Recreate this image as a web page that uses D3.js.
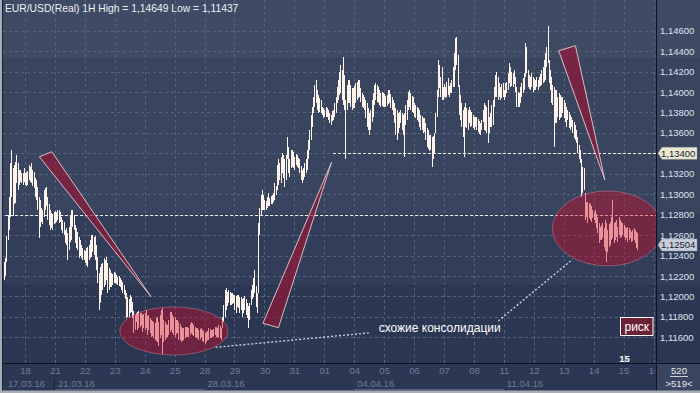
<!DOCTYPE html>
<html><head><meta charset="utf-8">
<script src="https://cdn.jsdelivr.net/npm/d3@7"></script>
<style>
html,body{margin:0;padding:0;background:#2d3953;overflow:hidden}
svg{display:block;font-family:"Liberation Sans",Arial,sans-serif}
</style></head>
<body><svg id="chart" width="700" height="393"></svg>
<script>
// ---------------- DATA ----------------
const title = "EUR/USD(Real) 1H High = 1,14649 Low = 1,11437";
const firstHour = -17; // hours relative to 18.03 00:00 (trading hours only)
const highs = [
1.1234,1.1238,1.1259,1.1280,1.1297,1.1331,1.1343,1.1326,1.1329,1.1332,1.1338,1.1331,1.1324,1.1324,1.1321,1.1321,1.1326,
1.1321,1.1322,1.1323,1.1329,1.1327,1.1331,1.1324,1.1322,1.1316,1.1314,1.1307,1.1297,1.1294,1.1287,1.1285,1.1304,1.1306,1.1307,1.1297,1.1290,1.1285,1.1282,1.1281,1.1283,
1.1284,1.1283,1.1285,1.1285,1.1283,1.1278,1.1275,1.1273,1.1265,1.1267,1.1262,1.1268,1.1280,1.1285,1.1285,1.1280,1.1270,1.1267,1.1263,1.1258,1.1255,1.1250,1.1247,1.1245,
1.1244,1.1247,1.1248,1.1250,1.1255,1.1260,1.1260,1.1258,1.1259,1.1250,1.1239,1.1223,1.1229,1.1232,1.1233,1.1238,1.1236,1.1239,1.1233,1.1228,1.1226,1.1223,1.1222,1.1224,
1.1223,1.1221,1.1219,1.1220,1.1218,1.1216,1.1214,1.1211,1.1206,1.1203,1.1199,1.1197,1.1201,1.1199,1.1195,1.1186,1.1182,1.1184,1.1185,1.1186,1.1184,1.1184,1.1182,1.1183,
1.1184,1.1187,1.1181,1.1182,1.1179,1.1177,1.1176,1.1175,1.1174,1.1179,1.1180,1.1175,1.1182,1.1187,1.1189,1.1177,1.1175,1.1173,1.1172,1.1177,1.1185,1.1185,1.1182,1.1180,
1.1180,1.1177,1.1177,1.1175,1.1173,1.1170,1.1169,1.1169,1.1170,1.1170,1.1170,1.1169,1.1173,1.1175,1.1174,1.1172,1.1170,1.1169,1.1169,1.1167,1.1168,1.1169,1.1167,1.1166,
1.1164,1.1165,1.1166,1.1169,1.1168,1.1167,1.1167,1.1168,1.1170,1.1170,1.1169,1.1172,1.1171,1.1169,1.1180,1.1192,1.1206,1.1208,1.1204,1.1206,1.1204,1.1203,1.1203,1.1201,
1.1201,1.1200,1.1201,1.1201,1.1199,1.1199,1.1197,1.1198,1.1200,1.1197,1.1194,1.1191,1.1194,1.1206,1.1211,1.1218,1.1226,1.1210,1.1203,1.1272,1.1287,1.1299,1.1304,1.1299,
1.1294,1.1293,1.1297,1.1301,1.1296,1.1298,1.1299,1.1301,1.1311,1.1308,1.1329,1.1334,1.1331,1.1336,1.1340,1.1338,1.1334,1.1338,1.1356,1.1346,1.1334,1.1343,1.1343,1.1341,
1.1336,1.1339,1.1338,1.1335,1.1334,1.1328,1.1324,1.1326,1.1331,1.1334,1.1343,1.1353,1.1363,1.1378,1.1385,1.1395,1.1407,1.1412,1.1402,1.1397,1.1394,1.1392,1.1385,1.1384,
1.1382,1.1385,1.1384,1.1382,1.1379,1.1378,1.1381,1.1382,1.1389,1.1395,1.1405,1.1412,1.1420,1.1426,1.1422,1.1434,1.1417,1.1392,1.1407,1.1412,1.1412,1.1407,1.1404,1.1404,
1.1406,1.1409,1.1410,1.1412,1.1412,1.1404,1.1399,1.1397,1.1395,1.1392,1.1389,1.1384,1.1379,1.1382,1.1392,1.1399,1.1407,1.1409,1.1407,1.1405,1.1402,1.1399,1.1400,1.1399,
1.1398,1.1396,1.1397,1.1402,1.1402,1.1398,1.1395,1.1392,1.1389,1.1384,1.1382,1.1379,1.1380,1.1382,1.1379,1.1378,1.1379,1.1387,1.1392,1.1400,1.1402,1.1399,1.1396,1.1395,
1.1389,1.1387,1.1385,1.1384,1.1382,1.1378,1.1377,1.1375,1.1375,1.1370,1.1365,1.1363,1.1358,1.1358,1.1356,1.1357,1.1360,1.1379,1.1402,1.1431,1.1426,1.1415,1.1424,1.1405,
1.1408,1.1405,1.1410,1.1414,1.1406,1.1409,1.1412,1.1424,1.1438,1.1453,1.1454,1.1436,1.1407,1.1397,1.1389,1.1382,1.1385,1.1389,1.1384,1.1382,1.1385,1.1382,1.1380,1.1378,
1.1376,1.1376,1.1376,1.1374,1.1372,1.1370,1.1373,1.1382,1.1389,1.1387,1.1385,1.1392,1.1376,1.1379,1.1387,1.1392,1.1405,1.1417,1.1420,1.1415,1.1409,1.1405,1.1408,1.1409,
1.1402,1.1409,1.1410,1.1419,1.1428,1.1424,1.1420,1.1419,1.1422,1.1415,1.1405,1.1400,1.1399,1.1405,1.1409,1.1414,1.1419,1.1448,1.1444,1.1422,1.1417,1.1415,1.1419,1.1415,
1.1413,1.1412,1.1415,1.1412,1.1415,1.1418,1.1422,1.1424,1.1431,1.1438,1.1444,1.1465,1.1431,1.1422,1.1415,1.1407,1.1405,1.1402,1.1402,1.1395,1.1399,1.1397,1.1395,1.1395,
1.1392,1.1389,1.1385,1.1382,1.1380,1.1378,1.1376,1.1373,1.1371,1.1368,1.1363,1.1356,1.1348,1.1343,1.1334,1.1327,1.1326,1.1301,1.1292,1.1292,1.1291,1.1290,1.1288,1.1285,
1.1283,1.1285,1.1281,1.1278,1.1272,1.1268,1.1270,1.1272,1.1267,1.1275,1.1272,1.1265,1.1271,1.1273,1.1278,1.1294,1.1272,1.1273,1.1275,1.1268,1.1278,1.1275,1.1273,1.1272,
1.1270,1.1268,1.1267,1.1268,1.1267,1.1265,1.1263,1.1265,1.1267,1.1265,1.1263,1.1262
];
const lows = [
1.1216,1.1220,1.1234,1.1255,1.1265,1.1278,1.1297,1.1279,1.1290,1.1291,1.1311,1.1304,1.1309,1.1312,1.1311,1.1309,1.1312,
1.1309,1.1308,1.1309,1.1314,1.1312,1.1311,1.1308,1.1306,1.1297,1.1294,1.1285,1.1257,1.1268,1.1273,1.1271,1.1278,1.1285,1.1288,1.1275,1.1270,1.1265,1.1267,1.1265,1.1271,
1.1272,1.1273,1.1275,1.1272,1.1273,1.1265,1.1262,1.1260,1.1252,1.1250,1.1236,1.1245,1.1253,1.1255,1.1268,1.1265,1.1252,1.1247,1.1245,1.1238,1.1240,1.1238,1.1236,1.1236,
1.1233,1.1231,1.1229,1.1236,1.1238,1.1239,1.1243,1.1241,1.1236,1.1226,1.1213,1.1187,1.1194,1.1201,1.1206,1.1209,1.1211,1.1216,1.1203,1.1206,1.1209,1.1209,1.1211,1.1213,
1.1213,1.1212,1.1211,1.1210,1.1209,1.1206,1.1203,1.1201,1.1197,1.1179,1.1180,1.1180,1.1184,1.1185,1.1179,1.1164,1.1167,1.1175,1.1167,1.1169,1.1170,1.1172,1.1165,1.1169,
1.1167,1.1169,1.1162,1.1167,1.1164,1.1160,1.1161,1.1159,1.1157,1.1156,1.1155,1.1151,1.1159,1.1162,1.1144,1.1155,1.1157,1.1159,1.1160,1.1162,1.1165,1.1167,1.1164,1.1162,
1.1160,1.1163,1.1164,1.1157,1.1157,1.1155,1.1156,1.1157,1.1159,1.1160,1.1160,1.1160,1.1162,1.1164,1.1162,1.1161,1.1160,1.1159,1.1159,1.1157,1.1158,1.1160,1.1156,1.1155,
1.1153,1.1155,1.1157,1.1157,1.1159,1.1159,1.1160,1.1161,1.1162,1.1160,1.1159,1.1160,1.1159,1.1157,1.1169,1.1175,1.1180,1.1187,1.1191,1.1194,1.1192,1.1192,1.1193,1.1194,
1.1187,1.1184,1.1190,1.1189,1.1184,1.1187,1.1180,1.1184,1.1187,1.1182,1.1179,1.1169,1.1177,1.1192,1.1197,1.1199,1.1203,1.1190,1.1184,1.1203,1.1260,1.1280,1.1285,1.1285,
1.1285,1.1285,1.1287,1.1288,1.1288,1.1290,1.1290,1.1292,1.1294,1.1299,1.1304,1.1309,1.1314,1.1311,1.1321,1.1316,1.1307,1.1314,1.1334,1.1321,1.1317,1.1326,1.1327,1.1326,
1.1324,1.1329,1.1327,1.1326,1.1321,1.1314,1.1311,1.1314,1.1317,1.1321,1.1324,1.1334,1.1343,1.1353,1.1366,1.1379,1.1385,1.1389,1.1382,1.1379,1.1380,1.1379,1.1378,1.1375,
1.1376,1.1376,1.1376,1.1373,1.1370,1.1368,1.1372,1.1373,1.1376,1.1379,1.1389,1.1392,1.1397,1.1399,1.1392,1.1387,1.1382,1.1334,1.1382,1.1389,1.1389,1.1385,1.1382,1.1384,
1.1384,1.1389,1.1392,1.1394,1.1395,1.1390,1.1385,1.1384,1.1382,1.1375,1.1366,1.1363,1.1358,1.1363,1.1371,1.1376,1.1387,1.1392,1.1390,1.1389,1.1387,1.1385,1.1386,1.1385,
1.1385,1.1385,1.1386,1.1388,1.1389,1.1384,1.1382,1.1378,1.1370,1.1358,1.1353,1.1360,1.1365,1.1370,1.1363,1.1358,1.1336,1.1368,1.1373,1.1382,1.1385,1.1382,1.1380,1.1379,
1.1376,1.1375,1.1373,1.1371,1.1366,1.1363,1.1363,1.1360,1.1361,1.1353,1.1346,1.1344,1.1342,1.1343,1.1327,1.1334,1.1340,1.1360,1.1376,1.1395,1.1404,1.1395,1.1392,1.1392,
1.1395,1.1394,1.1395,1.1397,1.1395,1.1399,1.1399,1.1405,1.1405,1.1422,1.1426,1.1405,1.1378,1.1373,1.1366,1.1356,1.1336,1.1366,1.1365,1.1363,1.1370,1.1366,1.1367,1.1365,
1.1363,1.1366,1.1363,1.1361,1.1359,1.1358,1.1363,1.1371,1.1363,1.1362,1.1360,1.1350,1.1360,1.1366,1.1366,1.1368,1.1385,1.1395,1.1395,1.1392,1.1395,1.1392,1.1394,1.1395,
1.1392,1.1395,1.1399,1.1402,1.1409,1.1405,1.1406,1.1405,1.1408,1.1400,1.1385,1.1385,1.1385,1.1389,1.1395,1.1399,1.1402,1.1415,1.1419,1.1405,1.1403,1.1402,1.1405,1.1400,
1.1402,1.1402,1.1405,1.1402,1.1405,1.1406,1.1407,1.1409,1.1410,1.1412,1.1424,1.1428,1.1409,1.1402,1.1389,1.1387,1.1346,1.1370,1.1370,1.1376,1.1373,1.1375,1.1376,1.1379,
1.1375,1.1371,1.1366,1.1373,1.1365,1.1363,1.1366,1.1360,1.1355,1.1353,1.1350,1.1340,1.1334,1.1331,1.1297,1.1301,1.1304,1.1275,1.1278,1.1272,1.1277,1.1275,1.1273,1.1277,
1.1275,1.1272,1.1267,1.1262,1.1252,1.1255,1.1255,1.1257,1.1248,1.1244,1.1234,1.1243,1.1248,1.1250,1.1255,1.1257,1.1252,1.1255,1.1258,1.1253,1.1260,1.1257,1.1258,1.1260,
1.1258,1.1255,1.1257,1.1253,1.1255,1.1257,1.1253,1.1254,1.1255,1.1252,1.1247,1.1245
];
const dayLabels = ["18","21","22","23","24","25","28","29","30","31","01","04","05","06","07","08","11","12","13","14","15","16"];
const weekLabels = ["17.03.16","21.03.16","28.03.16","04.04.16","11.04.16"];
const weekStartDay = [null,1,6,11,16];
const priceTicks = [1.116,1.118,1.120,1.122,1.124,1.126,1.128,1.130,1.132,1.134,1.136,1.138,1.140,1.142,1.144,1.146];
const levelPrices = [1.128,1.134];
const levelStartHours = [-20,247];
const lastClose = 1.12504;
const wedges = [
  [[11.5,1.13367],[21.5,1.13416],[101.1,1.11997]],
  [[190.8,1.11737],[203.2,1.11694],[245.8,1.13312]],
  [[428.0,1.14404],[441.4,1.14453],[465.0,1.13139]]
];
const ellipses = [
  {h:119.4,p:1.11662,rh:43.4,rp:0.00235},
  {h:467.1,p:1.12665,rh:44.2,rp:0.00367}
];
const connectors = [
  [[152.8,1.11502],[277.4,1.11645]],
  [[379.5,1.11760],[439.0,1.12361]]
];
const noteText = "схожие консолидации";
const notePos = [283.6,1.11652];
const riskText = "риск";
const barCountText = "520";
const barRangeText = ">519<";
const cornerDay = "15";

// ---------------- LAYOUT ----------------
const W=700,H=393;
const P={l:3,r:657,t:0,b:363};
const x = d3.scaleLinear().domain([0,504]).range([25,653.5]);
const y = d3.scaleLinear().domain([1.116,1.146]).range([337.3,30.7]);
const fmt = v => v.toFixed(5).replace('.',',');
const FONT='"Liberation Sans",Arial,sans-serif';

const svg = d3.select('#chart');
const defs = svg.append('defs');
defs.append('clipPath').attr('id','plotclip').append('rect')
  .attr('x',P.l).attr('y',P.t).attr('width',P.r-P.l).attr('height',P.b-P.t);
defs.append('clipPath').attr('id','xclip').append('rect')
  .attr('x',0).attr('y',-6).attr('width',655).attr('height',30);

// background bands
const bands=[[0,58,'#3f4a64'],[58,214,'#39455f'],[214,285,'#323e59'],[285,363,'#2c3853']];
svg.selectAll('rect.band').data(bands).join('rect')
  .attr('x',0).attr('width',W).attr('y',d=>d[0]).attr('height',d=>d[1]-d[0]).attr('fill',d=>d[2]);
svg.append('rect').attr('x',0).attr('y',363).attr('width',W).attr('height',30).attr('fill','#2c3853');
svg.append('rect').attr('x',657).attr('y',363).attr('width',43).attr('height',30).attr('fill','#3a4560');

const plot = svg.append('g').attr('clip-path','url(#plotclip)');
const dayHours = dayLabels.map((d,i)=>i*24);

// grid
plot.selectAll('line.vg').data(dayHours).join('line')
  .attr('x1',d=>Math.round(x(d))+0.5).attr('x2',d=>Math.round(x(d))+0.5)
  .attr('y1',P.t).attr('y2',P.b).attr('stroke','#56627c').attr('stroke-dasharray','3,3');
plot.selectAll('line.hg').data(priceTicks).join('line')
  .attr('x1',P.l).attr('x2',P.r).attr('y1',d=>Math.round(y(d))+0.5).attr('y2',d=>Math.round(y(d))+0.5)
  .attr('stroke','#56627c').attr('stroke-dasharray','3,3');

// level lines
plot.selectAll('line.lvl').data(levelPrices).join('line')
  .attr('x1',(d,i)=>x(levelStartHours[i])).attr('x2',P.r)
  .attr('y1',d=>Math.round(y(d))+0.5).attr('y2',d=>Math.round(y(d))+0.5)
  .attr('stroke','#f2f2ee').attr('stroke-width',1).attr('stroke-dasharray','3,2');

// bars
const n=Math.min(highs.length,lows.length);
const bars=d3.range(n).map(i=>({h:firstHour+i,hi:highs[i],lo:lows[i]}));
plot.selectAll('line.bar').data(bars).join('line')
  .attr('x1',d=>Math.round(x(d.h))+0.5).attr('x2',d=>Math.round(x(d.h))+0.5)
  .attr('y1',d=>y(d.hi)).attr('y2',d=>Math.max(y(d.lo),y(d.hi)+1))
  .attr('stroke','#fff4ec').attr('stroke-width',1).attr('shape-rendering','crispEdges');

// ellipses
plot.selectAll('ellipse.z').data(ellipses).join('ellipse')
  .attr('cx',d=>x(d.h)).attr('cy',d=>y(d.p))
  .attr('rx',d=>x(d.h+d.rh)-x(d.h)).attr('ry',d=>y(d.p-d.rp)-y(d.p))
  .attr('fill','rgb(205,8,38)').attr('fill-opacity',0.42)
  .attr('stroke','rgba(215,135,155,0.45)').attr('stroke-width',1);

// wedges
plot.selectAll('path.w').data(wedges).join('path')
  .attr('d',d=>d3.line().x(p=>x(p[0])).y(p=>y(p[1]))(d)+'Z')
  .attr('fill','rgb(148,22,50)').attr('fill-opacity',0.66)
  .attr('stroke','#d9bcc4').attr('stroke-width',1);

// connectors
plot.selectAll('line.cn').data(connectors).join('line')
  .attr('x1',d=>x(d[0][0])).attr('y1',d=>y(d[0][1]))
  .attr('x2',d=>x(d[1][0])).attr('y2',d=>y(d[1][1]))
  .attr('stroke','#ccd1da').attr('stroke-width',1.4).attr('stroke-dasharray','2,2');

// note
plot.append('text').attr('x',x(notePos[0])).attr('y',y(notePos[1]))
  .attr('fill','#ffffff').attr('font-size',12).text(noteText);

// title
svg.append('text').attr('x',5).attr('y',12).attr('fill','#eef1f5').attr('font-size',10.3).text(title);

// risk box
const rb=svg.append('g');
rb.append('rect').attr('x',620.5).attr('y',317.5).attr('width',32.5).attr('height',18)
  .attr('fill','#6c2236').attr('stroke','#ffffff').attr('stroke-width',1);
rb.append('text').attr('x',636.8).attr('y',330.5).attr('text-anchor','middle')
  .attr('fill','#ffffff').attr('font-size',12).text(riskText);

// corner "15"
svg.append('text').attr('x',x(dayLabels.indexOf(cornerDay)*24)+1).attr('y',362).attr('text-anchor','middle')
  .attr('fill','#ffffff').attr('font-size',9.5).attr('font-weight','bold').text(cornerDay);

// frame lines
svg.append('line').attr('x1',656.5).attr('x2',656.5).attr('y1',0).attr('y2',H).attr('stroke','#0e1320');
svg.append('line').attr('x1',P.l).attr('x2',W).attr('y1',363.5).attr('y2',363.5).attr('stroke','#0e1320');
svg.append('line').attr('x1',2.5).attr('x2',2.5).attr('y1',0).attr('y2',H).attr('stroke','#1a2132');
svg.append('rect').attr('x',0).attr('y',0).attr('width',2).attr('height',H).attr('fill','#a7acb6');
svg.append('rect').attr('x',0).attr('y',390.5).attr('width',W).attr('height',2.5).attr('fill','#a7acb6');

// x axis (days)
const xAxis=d3.axisBottom(x).tickValues(dayHours).tickFormat((d,i)=>dayLabels[i]).tickSize(0).tickPadding(0);
const gx=svg.append('g').attr('transform','translate(0,367)').attr('clip-path','url(#xclip)').call(xAxis);
gx.select('.domain').remove();
gx.selectAll('text').attr('fill','#6c7b96').attr('font-size',9.5).attr('font-family',FONT);

// week separators / labels
weekLabels.forEach((w,i)=>{
  const d=weekStartDay[i];
  const xs = d===null ? 8 : x(d*24)+3;
  svg.append('text').attr('x',xs).attr('y',387).attr('fill','#6c7b96').attr('font-size',9.5).text(w);
});
svg.append('line').attr('x1',x(24)-0.5).attr('x2',x(24)-0.5).attr('y1',378).attr('y2',390).attr('stroke','#1c2538');
[[1,6],[11,16]].forEach(r=>{
  svg.append('line').attr('x1',x(r[0]*24)).attr('x2',x(r[1]*24)).attr('y1',389.5).attr('y2',389.5).attr('stroke','#55607a');
});

// y axis
const yAxis=d3.axisRight(y).tickValues(priceTicks).tickFormat(fmt).tickSize(0).tickPadding(3);
const gy=svg.append('g').attr('transform','translate(657,0)').call(yAxis);
gy.select('.domain').remove();
gy.selectAll('text').attr('fill','#dde3ec').attr('font-size',9.5).attr('font-family',FONT);

// price markers
function marker(p,fill){
  const cy=y(p);
  const g=svg.append('g');
  g.append('path').attr('d',`M658,${cy} L662,${cy-6} L697,${cy-6} L697,${cy+6} L662,${cy+6} Z`)
    .attr('fill',fill).attr('stroke','#9aa2b0').attr('stroke-width',0.5);
  g.append('text').attr('x',661).attr('y',cy).attr('dy','0.35em').attr('fill','#1d2330').attr('font-size',9.5).text(fmt(p));
}
marker(levelPrices[1],'#e9e8d0');
marker(lastClose,'#c6cdd9');

// bar counter
svg.append('text').attr('x',679).attr('y',374).attr('text-anchor','middle').attr('fill','#e4e8ef').attr('font-size',9.5).text(barCountText);
svg.append('line').attr('x1',670).attr('x2',688).attr('y1',376.5).attr('y2',376.5).attr('stroke','#c8cdd6');
svg.append('text').attr('x',679).attr('y',387).attr('text-anchor','middle').attr('fill','#e4e8ef').attr('font-size',9.5).text(barRangeText);
</script></body></html>
